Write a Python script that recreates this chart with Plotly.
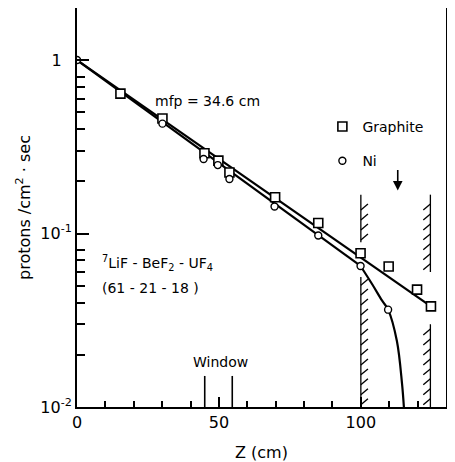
import numpy as np
import plotly.graph_objects as go

# ---- data ----
graphite_z = [15.3, 30.1, 44.9, 49.8, 53.7, 69.8, 85.0, 99.9, 109.8, 119.8, 124.7]
graphite_y = [0.64, 0.46, 0.29, 0.263, 0.225, 0.162, 0.115, 0.077, 0.0646, 0.0475, 0.038]
ni_z = [0.0, 30.1, 44.6, 49.6, 53.7, 69.6, 85.0, 99.9, 109.6]
ni_y = [1.0, 0.43, 0.269, 0.248, 0.206, 0.143, 0.0975, 0.065, 0.0364]

graphite_fit_z = [0.0, 124.7]
graphite_fit_y = [1.0, 0.038]
ni_fit_z = [0.0, 99.9]
ni_fit_y = [1.0, 0.065]
ni_tail_z = [99.9, 104.0, 107.5, 109.6, 112.7, 114.5, 115.2]
ni_tail_y = [0.065, 0.051, 0.041, 0.0364, 0.024, 0.0137, 0.0098]

x_tick_vals = [0, 50, 100]
x_tick_text = ["0", "50", "100"]
x_minor_vals = [10, 20, 30, 40, 60, 70, 80, 90, 110, 120]
y_tick_vals = [0.01, 0.1, 1]
y_tick_text = ["10<sup>-2</sup>", "10<sup>-1</sup>", "1\u00a0\u00a0"]
y_minor_vals = [0.02, 0.03, 0.04, 0.05, 0.06, 0.07, 0.08,
                0.2, 0.3, 0.4, 0.5, 0.6, 0.7, 0.8]

window_z = [45.0, 54.7]
window_top = 0.0151
left_wall_z = 100.0
left_wall_segments = [(0.01, 0.0561), (0.0891, 0.1675)]
right_wall_z = 124.5
right_wall_segments = [(0.01, 0.030), (0.060, 0.1675)]
arrow_z = 113.0
arrow_tip_y = 0.177

FONT = "DejaVu Sans"
BLACK = "black"

fig = go.Figure()

# fit lines
fig.add_trace(go.Scatter(x=graphite_fit_z, y=graphite_fit_y, mode="lines",
                         line=dict(color=BLACK, width=2.2), showlegend=False, hoverinfo="skip"))
fig.add_trace(go.Scatter(x=ni_fit_z, y=ni_fit_y, mode="lines",
                         line=dict(color=BLACK, width=2.2), showlegend=False, hoverinfo="skip"))
fig.add_trace(go.Scatter(x=ni_tail_z, y=ni_tail_y, mode="lines",
                         line=dict(color=BLACK, width=2.2, shape="spline", smoothing=1.0),
                         showlegend=False, hoverinfo="skip"))

# walls with hatching (computed from the wall arrays)
def wall_trace(z, segments, side):
    xs, ys = [], []
    dz = 2.5
    fac = 10 ** (6 / 174)
    step = 10 ** (10 / 174)
    for lo, hi in segments:
        xs += [z, z, None]
        ys += [lo, hi, None]
        yy = lo * 1.03
        while yy * fac <= hi * 1.001:
            if side == "right":
                xs += [z, z + dz, None]
            else:
                xs += [z - dz, z, None]
            ys += [yy, yy * fac, None]
            yy *= step
    return go.Scatter(x=xs, y=ys, mode="lines", line=dict(color=BLACK, width=1.3),
                      showlegend=False, hoverinfo="skip")

fig.add_trace(wall_trace(left_wall_z, left_wall_segments, "right"))
fig.add_trace(wall_trace(right_wall_z, right_wall_segments, "left"))

# window marks
wx, wy = [], []
for z in window_z:
    wx += [z, z, None]
    wy += [0.01, window_top, None]
fig.add_trace(go.Scatter(x=wx, y=wy, mode="lines", line=dict(color=BLACK, width=1.6),
                         showlegend=False, hoverinfo="skip"))

# data markers
fig.add_trace(go.Scatter(x=graphite_z, y=graphite_y, mode="markers", name="Graphite",
                         legendgroup="g",
                         marker=dict(symbol="square", size=9, color="white",
                                     line=dict(color=BLACK, width=1.6))))
fig.add_trace(go.Scatter(x=ni_z, y=ni_y, mode="markers", name="Ni",
                         legendgroup="n",
                         marker=dict(symbol="circle", size=7, color="white",
                                     line=dict(color=BLACK, width=1.4))))

annotations = [
    dict(x=46.1, y=np.log10(0.58), text="mfp = 34.6 cm", showarrow=False,
         font=dict(family=FONT, size=14, color=BLACK), xref="x", yref="y"),
    dict(x=8.1, y=-1.172, text="<sup>7</sup>LiF - BeF<sub>2</sub> - UF<sub>4</sub>",
         showarrow=False, xanchor="left", font=dict(family=FONT, size=14, color=BLACK),
         xref="x", yref="y"),
    dict(x=8.1, y=-1.316, text="(61 - 21 - 18 )", showarrow=False, xanchor="left",
         font=dict(family=FONT, size=14, color=BLACK), xref="x", yref="y"),
    dict(x=50.5, y=-1.741, text="Window", showarrow=False,
         font=dict(family=FONT, size=14, color=BLACK), xref="x", yref="y"),
    dict(x=arrow_z, y=np.log10(arrow_tip_y), ax=0, ay=-22, text="", showarrow=True,
         arrowhead=2, arrowsize=1.2, arrowwidth=1.6, arrowcolor=BLACK, xref="x", yref="y"),
]

# page body has an 8px default margin: the figure starts at (8, 8) in the window
fig.update_layout(
    width=447, height=454,
    margin=dict(l=69, r=9, t=0, b=55, pad=0, autoexpand=False),
    paper_bgcolor="white", plot_bgcolor="white",
    font=dict(family=FONT, color=BLACK, size=16),
    showlegend=True,
    legend=dict(x=0.665, y=0.742, xanchor="left", yanchor="top",
                font=dict(family=FONT, size=14, color=BLACK),
                bgcolor="rgba(0,0,0,0)", traceorder="grouped", tracegroupgap=13),
    annotations=annotations,
)

fig.update_xaxes(
    range=[0, 130], showgrid=False, zeroline=False, automargin=False,
    showline=True, linecolor=BLACK, linewidth=2, mirror=True,
    ticks="inside", ticklen=10, tickwidth=1.5, tickcolor=BLACK,
    tickvals=x_tick_vals, ticktext=x_tick_text,
    tickfont=dict(family=FONT, size=16, color=BLACK),
    minor=dict(tickvals=x_minor_vals, ticks="inside", ticklen=6, tickwidth=1.5, tickcolor=BLACK,
               showgrid=False),
    title=dict(text="Z (cm)", font=dict(family=FONT, size=16, color=BLACK), standoff=24),
)
fig.update_yaxes(
    type="log", range=[-2, 0.3], showgrid=False, zeroline=False, automargin=False,
    showline=True, linecolor=BLACK, linewidth=2, mirror=True,
    ticks="inside", ticklen=12, tickwidth=1.5, tickcolor=BLACK,
    tickvals=y_tick_vals, ticktext=y_tick_text,
    tickfont=dict(family=FONT, size=16, color=BLACK),
    minor=dict(tickvals=y_minor_vals, ticks="inside", ticklen=8, tickwidth=1.5, tickcolor=BLACK,
               showgrid=False),
    title=dict(text="protons /cm<sup>2</sup> · sec", font=dict(family=FONT, size=16, color=BLACK),
               standoff=6),
)

fig.write_html("out.html")
